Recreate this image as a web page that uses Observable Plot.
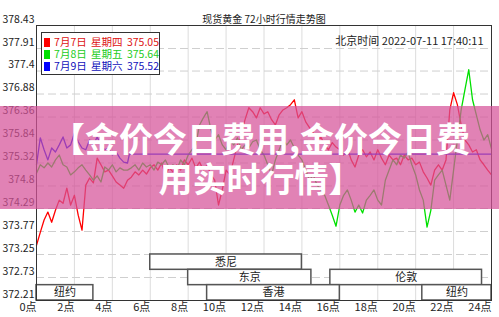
<!DOCTYPE html>
<html><head><meta charset="utf-8">
<script src="https://cdn.jsdelivr.net/npm/d3@7"></script>
<script src="https://cdn.jsdelivr.net/npm/@observablehq/plot@0.6"></script>
<style>
body{margin:0;background:#fff;}
#wrap{position:relative;width:499px;height:317px;overflow:hidden;font-family:"Noto Sans CJK SC",sans-serif;}
#legend{position:absolute;left:41px;top:32px;width:117px;height:38px;border:1px solid #333;background:#fff;font-size:10.5px;padding-top:3px;box-sizing:content-box;}
#legend .row{height:12px;line-height:12px;white-space:nowrap;word-spacing:2px;display:flex;align-items:center;}
#legend .sq{display:inline-block;width:9px;height:9px;margin-left:2px;margin-right:4px;}
#band{position:absolute;left:0;top:106px;width:499px;height:103px;background:rgba(214,84,154,0.73);}
#banner{position:absolute;left:30px;top:118px;width:461px;text-align:center;color:#fff;font-weight:700;font-size:34px;line-height:40px;white-space:nowrap;}
</style>
</head><body>
<div id="wrap"></div>
<script>
// ---- data ----
const title = "现货黄金 72小时行情走势图";
const stamp = "北京时间 2022-07-11 17:40:11";
const bannerText = ["【金价今日费用,金价今日费", "用实时行情】"];

const yLabels = [378.43, 377.91, 377.4, 376.88, 376.36, 375.84, 375.32, 374.8, 374.29, 373.77, 373.25, 372.73, 372.21];
const xTicks = [0,2,4,6,8,10,12,14,16,18,20,22,24];

const legendDates = ["7月7日", "7月8日", "7月9日"];
const legendWeekdays = ["星期四", "星期五", "星期六"];
const legendLast = ["375.05", "375.64", "375.52"];
const seriesColors = ["#ff0000", "#00e000", "#0000ff"];
const legendTextColors = ["#dd1111", "#22cc22", "#1111bb"];

const hours = [0,0.2,0.4,0.6,0.8,1,1.2,1.4,1.6,1.8,2,2.2,2.4,2.6,2.8,3,3.2,3.4,3.6,3.8,4,4.2,4.4,4.6,4.8,5,5.2,5.4,5.6,5.8,6,6.2,6.4,6.6,6.8,7,7.2,7.4,7.6,7.8,8,8.2,8.4,8.6,8.8,9,9.2,9.4,9.6,9.8,10,10.2,10.4,10.6,10.8,11,11.2,11.4,11.6,11.8,12,12.2,12.4,12.6,12.8,13,13.2,13.4,13.6,13.8,14,14.2,14.4,14.6,14.8,15,15.2,15.4,15.6,15.8,16,16.2,16.4,16.6,16.8,17,17.2,17.4,17.6,17.8,18,18.2,18.4,18.6,18.8,19,19.2,19.4,19.6,19.8,20,20.2,20.4,20.6,20.8,21,21.2,21.4,21.6,21.8,22,22.2,22.4,22.6,22.8,23,23.2,23.4,23.6,23.8,24];

const redValues = [373.46,373.75,374.03,374.21,373.98,374.25,374.48,374.41,374.75,374.37,374.59,374.14,373.80,374.82,374.98,374.87,375.43,375.28,375.12,375.16,375.03,374.89,374.82,374.75,374.93,375.00,375.12,375.05,375.16,375.07,375.21,375.28,375.16,375.32,375.05,375.21,375.12,375.28,375.16,375.39,375.28,375.43,375.21,375.34,375.16,375.28,375.05,374.93,374.37,374.71,375.16,375.05,375.39,375.73,375.96,376.30,376.57,376.48,376.34,376.57,376.43,376.48,376.30,376.18,376.41,376.52,376.57,376.64,376.75,376.34,376.48,376.25,376.12,376.00,375.84,375.91,375.73,375.62,375.78,375.68,375.62,375.50,375.66,375.39,375.23,375.50,375.62,375.46,375.57,375.39,375.62,375.43,375.28,375.50,375.39,375.43,375.28,375.50,375.39,375.43,375.28,375.34,375.12,374.98,374.82,375.16,375.28,375.16,375.39,376.52,376.91,376.64,376.18,375.84,375.73,375.57,375.62,375.39,375.28,375.16,375.05];

const greenValues = [375.09,375.28,375.21,375.32,375.23,375.39,375.50,375.28,375.23,375.05,375.12,375.21,375.28,375.16,375.05,374.93,375.03,374.89,375.23,375.16,375.28,375.12,375.21,375.16,375.16,375.21,375.28,375.16,375.32,375.23,375.28,375.16,375.34,375.28,375.39,375.21,375.28,375.16,375.39,375.28,375.50,375.62,375.73,376.18,376.34,376.48,376.07,375.84,375.96,375.73,375.62,375.84,375.73,375.89,375.62,375.73,375.66,375.80,375.84,375.62,375.50,375.28,375.05,375.39,375.62,375.84,375.73,375.84,375.66,375.50,375.39,375.16,374.93,375.05,374.82,374.71,374.59,374.37,374.14,373.89,374.37,374.59,374.71,374.48,374.21,374.37,374.19,374.48,374.59,374.71,374.48,374.37,374.93,375.16,375.39,375.28,375.50,375.43,375.57,375.28,375.05,374.71,374.48,373.87,374.25,374.93,375.05,375.16,374.82,374.48,375.16,375.84,376.52,376.98,377.43,376.75,376.41,376.07,375.84,375.96,375.64];

const blueHours = [0,0.2,0.4,0.6,0.8,1,1.2,1.4,1.6,1.8,2,2.2,2.4,2.6,2.8,3,3.2,3.4,3.6,3.8,4,4.2,4.4,4.6,4.8,4.9,24];
const blueValues = [375.28,375.89,375.62,375.39,375.66,375.57,375.73,375.91,375.66,375.73,376.00,375.80,375.66,375.62,375.84,375.73,375.91,375.73,375.62,375.66,375.50,375.57,375.43,375.34,375.32,375.52,375.52];

const sessionNames = ["悉尼", "东京", "伦敦", "香港", "纽约", "纽约"];
const sessionStart = [6, 8, 15.5, 9, 0, 20.35];
const sessionEnd   = [14, 14.5, 23.5, 16, 3, 24];
const sessionRow   = [2, 1, 1, 0, 0, 0];

// ---- build ----
const yMin = 372.21, yMax = 378.43;
const lane = 0.347; // height of one session lane in price units
const red = hours.map((h, i) => ({h, v: redValues[i]}));
const green = hours.map((h, i) => ({h, v: greenValues[i]}));
const blue = blueHours.map((h, i) => ({h, v: blueValues[i]}));
const sessions = sessionNames.map((name, i) => ({name, s: sessionStart[i], e: sessionEnd[i], row: sessionRow[i]}));

const font = '"Noto Sans CJK SC", sans-serif';
const chart = Plot.plot({
  width: 499, height: 317,
  marginLeft: 36, marginRight: 8, marginTop: 25, marginBottom: 17,
  style: {fontFamily: font, fontSize: "11px", color: "#222", background: "#fff"},
  x: {domain: [0, 24], label: null},
  y: {domain: [yMin, yMax], label: null},
  marks: [
    Plot.gridX(xTicks.slice(1, -1), {stroke: "#dcdcdc", strokeOpacity: 1}),
    Plot.gridY(yLabels, {stroke: "#cfcfcf", strokeOpacity: 1, strokeDasharray: "8,4"}),
    Plot.line(red, {x: "h", y: "v", stroke: seriesColors[0], strokeWidth: 1.3}),
    Plot.line(green, {x: "h", y: "v", stroke: seriesColors[1], strokeWidth: 1.3}),
    Plot.line(blue, {x: "h", y: "v", stroke: seriesColors[2], strokeWidth: 1.3}),
    Plot.rect(sessions, {x1: "s", x2: "e", y1: d => yMin + d.row * lane, y2: d => yMin + (d.row + 1) * lane, fill: "white", stroke: "#555", strokeWidth: 1.5}),
    Plot.text(sessions, {x: d => (d.s + d.e) / 2, y: d => yMin + (d.row + 0.5) * lane, text: "name", fill: "#222", fontSize: 11}),
    Plot.frame({stroke: "#333"}),
    Plot.axisY(yLabels, {label: null, tickSize: 0, tickPadding: 2, dy: -6, tickFormat: d => String(d), fontSize: 10.5, fill: "#222"}),
    Plot.axisX(xTicks, {label: null, tickSize: 0, tickPadding: 3, tickFormat: d => d + "点", textAnchor: "end", dx: 0, fontSize: 11, fill: "#222"}),
    Plot.text([title], {frameAnchor: "top", dy: -10, fontSize: 10, fill: "#222"}),
    Plot.text([stamp], {frameAnchor: "top-right", dx: -8, dy: 12, fontSize: 11, fill: "#222"})
  ]
});
const wrap = document.getElementById("wrap");
wrap.appendChild(chart);

const legend = document.createElement("div");
legend.id = "legend";
legendDates.forEach((d, i) => {
  const row = document.createElement("div");
  row.className = "row";
  row.style.color = legendTextColors[i];
  const sq = document.createElement("span");
  sq.className = "sq";
  sq.style.background = seriesColors[i];
  row.appendChild(sq);
  row.appendChild(document.createTextNode(d + " " + legendWeekdays[i] + " " + legendLast[i]));
  legend.appendChild(row);
});
wrap.appendChild(legend);

const band = document.createElement("div");
band.id = "band";
wrap.appendChild(band);
const banner = document.createElement("div");
banner.id = "banner";
banner.innerHTML = bannerText.join("<br>");
wrap.appendChild(banner);
</script>
</body></html>
